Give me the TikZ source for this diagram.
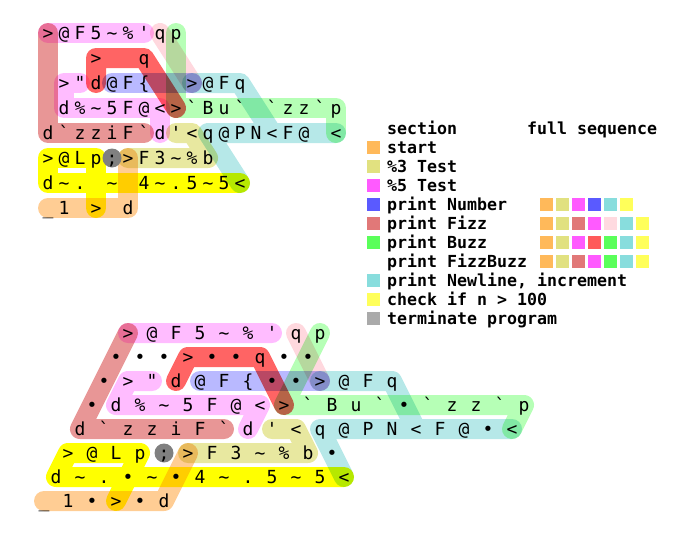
\documentclass[tikz,border=0pt]{standalone}
\usepackage{fontspec}
\newfontfamily\codefont{DejaVu Sans Mono}[Ligatures=TeXOff]
\newfontfamily\legfont{DejaVu Sans Mono}[Ligatures=TeXOff]
% band colours (as seen in the grid, multiplied where they overlap)
\definecolor{bOrange}{RGB}{255,205,148}
\definecolor{bKhaki}{RGB}{232,232,160}
\definecolor{bMag}{RGB}{255,188,255}
\definecolor{bBlue}{RGB}{185,185,255}
\definecolor{bSalmon}{RGB}{232,150,150}
\definecolor{bPink}{RGB}{255,216,222}
\definecolor{bRed}{RGB}{255,100,100}
\definecolor{bGreen}{RGB}{182,255,182}
\definecolor{bCyan}{RGB}{182,232,232}
\definecolor{bYellow}{RGB}{255,255,0}
\definecolor{bGray}{RGB}{128,128,128}
% swatch colours
\definecolor{sOrange}{RGB}{255,185,90}
\definecolor{sKhaki}{RGB}{225,225,128}
\definecolor{sMag}{RGB}{255,90,255}
\definecolor{sBlue}{RGB}{90,90,255}
\definecolor{sSalmon}{RGB}{225,120,120}
\definecolor{sGreen}{RGB}{90,255,90}
\definecolor{sCyan}{RGB}{136,221,221}
\definecolor{sYellow}{RGB}{255,255,90}
\definecolor{sGray}{RGB}{170,170,170}
\definecolor{sPink}{RGB}{255,218,224}
\definecolor{sRed}{RGB}{255,90,90}
\newcommand\cTil{\char126\relax}
\newcommand\cApo{\char39\relax}
\newcommand\cGrv{\char96\relax}
\newcommand\cDq{\char34\relax}
\newcommand\cPct{\char37\relax}
\newcommand\cBr{\char123\relax}
\newcommand\cUs{\char95\relax}
\newcommand\cSp{}
\newcommand\gp{T}
\newcommand\gridrow[2]{%
  \foreach \ch [count=\ci from 0] in {#2} {\node[code] (\gp-#1-\ci) at (\ci,#1) {\ch};}}
\newcommand\allrows{%
  \gridrow{0}{>,@,F,5,\cTil,\cPct,\cApo,q,p}
  \gridrow{1}{\cSp,\cSp,\cSp,>,\cSp,\cSp,q,\cSp,\cSp}
  \gridrow{2}{\cSp,>,\cDq,d,@,F,\cBr,\cSp,\cSp,>,@,F,q}
  \gridrow{3}{\cSp,d,\cPct,\cTil,5,F,@,<,>,\cGrv,B,u,\cGrv,\cSp,\cGrv,z,z,\cGrv,p}
  \gridrow{4}{d,\cGrv,z,z,i,F,\cGrv,d,\cApo,<,q,@,P,N,<,F,@,\cSp,<}
  \gridrow{5}{>,@,L,p,;,>,F,3,\cTil,\cPct,b,\cSp}
  \gridrow{6}{d,\cTil,.,\cSp,\cTil,\cSp,4,\cTil,.,5,\cTil,5,<}
  \gridrow{7}{\cUs,1,\cSp,>,\cSp,d}}
\newcommand\allbands{%
  \draw[band,bOrange] (0,7)--(5,7)--(5,5);
  \draw[band,bKhaki] (5,5)--(10,5)--(9,4)--(8,4);
  \draw[band,bSalmon] (6,4)--(0,4)--(0,0);
  \draw[band,bMag] (0,0)--(6,0) (7,4)--(7,3)--(1,3)--(1,2)--(2,2);
  \draw[band,bPink] (7,0)--(9,2);
  \draw[band,bBlue] (4,2)--(9,2);
  \draw[band,bRed] (3,2)--(3,1)--(6,1)--(8,3);
  \draw[band,bGreen] (8,0)--(8,3)--(18,3)--(18,4);
  \draw[band,bCyan] (9,2)--(12,2)--(14,4) (10,4)--(18,4) (10,4)--(12,6);
  \draw[band,bYellow] (3,7)--(3,5)--(0,5)--(0,6)--(12,6);
  \fill[bGray] (4,5) circle[radius=9.5pt];}
\tikzset{
  band/.style={line width=20pt,line cap=round,line join=round,blend mode=multiply},
  code/.style={inner sep=0pt,anchor=base,yshift=-6.5pt,font=\codefont\fontsize{18}{18}\selectfont},
  leg/.style={inner sep=0pt,anchor=base west,font=\legfont\bfseries\fontsize{16.6}{16.6}\selectfont},
  sw/.style={minimum size=13pt,inner sep=0pt,outer sep=0pt}
}
\begin{document}
\begin{tikzpicture}[x=1pt,y=-1pt]
\useasboundingbox (0,0) rectangle (687,541);
% top grid
\begin{scope}[shift={(48pt,-33pt)},x={(16pt,0pt)},y={(0pt,-25pt)}]
  \allbands
  \renewcommand\gp{T}\allrows
\end{scope}
% bottom (skewed) grid
\begin{scope}[shift={(128pt,-333pt)},x={(24pt,0pt)},y={(-12pt,-24pt)}]
  \allbands
  \renewcommand\gp{B}\renewcommand\cSp{\textbullet}\allrows
\end{scope}
% legend
\node[leg] (h1) at (387,134) {section};
\node[leg] (h2) at (527,134) {full sequence};
\foreach \yy/\txt/\col/\nm in {147/start/sOrange/l1,166/\cPct3 Test/sKhaki/l2,185/\cPct5 Test/sMag/l3,
  204/print Number/sBlue/l4,223/print Fizz/sSalmon/l5,242/print Buzz/sGreen/l6,
  280/{print Newline, increment}/sCyan/l8,299/check if n > 100/sYellow/l9,318/terminate program/sGray/l10}{
  \node[sw,fill=\col] (s\nm) at (373.5,\yy) {};
  \node[leg] (\nm) at (387,\yy+6) {\txt};
}
\node[leg] (l7) at (387,267) {print FizzBuzz};
\foreach \yy/\seq in {204/{sOrange,sKhaki,sMag,sBlue,sCyan,sYellow},
  223/{sOrange,sKhaki,sSalmon,sMag,sPink,sCyan,sYellow},
  242/{sOrange,sKhaki,sMag,sRed,sGreen,sCyan,sYellow},
  261/{sOrange,sKhaki,sSalmon,sMag,sGreen,sCyan,sYellow}}{
  \foreach \cl [count=\k from 0] in \seq {
    \node[sw,fill=\cl] (q\yy-\k) at (546.5+16*\k,\yy) {};
  }
}
\end{tikzpicture}
\end{document}
